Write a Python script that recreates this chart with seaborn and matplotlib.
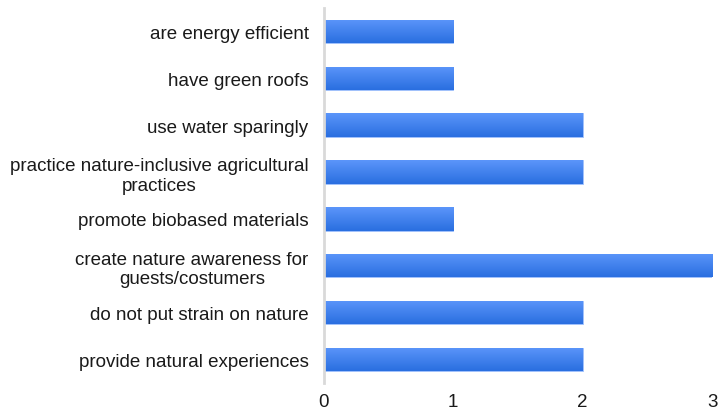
import numpy as np
import pandas as pd
import seaborn as sns
import matplotlib.pyplot as plt
from matplotlib.colors import LinearSegmentedColormap

categories = [
    "are energy efficient",
    "have green roofs",
    "use water sparingly",
    "practice nature-inclusive agricultural\npractices",
    "promote biobased materials",
    "create nature awareness for\nguests/costumers",
    "do not put strain on nature",
    "provide natural experiences",
]
counts = [1, 1, 2, 2, 1, 3, 2, 2]
x_ticks = [0, 1, 2, 3]

df = pd.DataFrame({"label": categories, "count": counts})

sns.set_theme(style="white")
plt.rcParams['font.family'] = ['Liberation Sans', 'DejaVu Sans']

fig = plt.figure(figsize=(7.26, 4.14), dpi=100)
ax = fig.add_axes([0.446, 0.073, 0.535, 0.905])

sns.barplot(data=df, x="count", y="label", color="#4285f4", width=0.5,
            orient="h", ax=ax)

# vertical gradient inside each bar (lighter on top, darker at bottom)
grad = LinearSegmentedColormap.from_list("bar", ["#5b95fa", "#2a6fe0"])
for patch in ax.patches:
    x0, y0 = patch.get_x(), patch.get_y()
    w, h = patch.get_width(), patch.get_height()
    patch.set_facecolor("none")
    patch.set_edgecolor("#8fb6fb")
    patch.set_linewidth(0.6)
    img = ax.imshow(np.linspace(0, 1, 50).reshape(-1, 1), cmap=grad, aspect="auto",
                    extent=(x0, x0 + w, y0 + h, y0), origin="upper", zorder=1)
    img.set_clip_path(patch)

ax.set_xlim(0, 3)
ax.set_ylim(7.5, -0.5)
ax.set_xticks(x_ticks)
ax.set_xlabel("")
ax.set_ylabel("")

for s in ["top", "right", "bottom"]:
    ax.spines[s].set_visible(False)
ax.spines["left"].set_color("#d9d9d9")
ax.spines["left"].set_linewidth(2)

ax.tick_params(axis="y", length=0, pad=11, labelsize=13.5, labelcolor="#1a1a1a")
ax.tick_params(axis="x", length=0, pad=7, labelsize=13.5, labelcolor="#1a1a1a")
for t in ax.get_yticklabels():
    t.set_multialignment("center")
    t.set_linespacing(1.2)

fig.savefig("out.png", dpi=100)
